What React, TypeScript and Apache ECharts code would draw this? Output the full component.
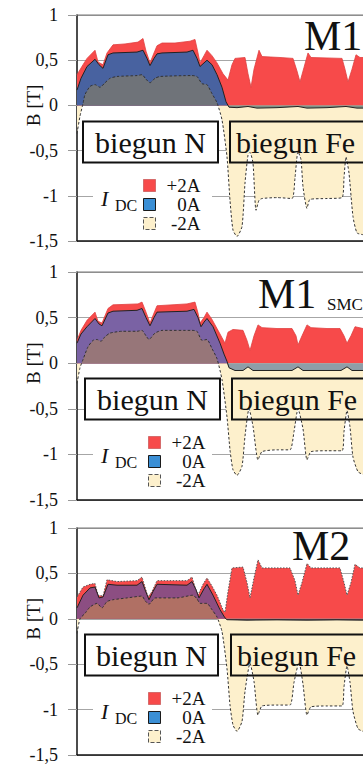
import React, { useEffect, useRef } from 'react';
import * as echarts from 'echarts';

type P = [number, number];

// Position along the air gap (arbitrary units) and flux density B [T]
const m1Plus2A: P[] = [[0,0.34],[6,0.45],[10,0.52],[18,0.61],[21,0.48],[26,0.45],[30,0.58],[36,0.67],[48,0.68],[61,0.7],[66,0.74],[69,0.6],[73,0.47],[77,0.58],[80,0.66],[85,0.69],[98,0.69],[113,0.71],[118,0.73],[121,0.58],[123,0.47],[127,0.55],[130,0.61],[135,0.55],[140,0.47],[146,0.35],[151,0.28],[155,0.45],[158,0.52],[168,0.53],[171,0.35],[174,0.2],[177,0.4],[182,0.61],[185,0.54],[203,0.53],[216,0.52],[220,0.38],[223,0.26],[227,0.42],[231,0.58],[234,0.53],[265,0.52],[268,0.4],[271,0.26],[275,0.4],[279,0.56],[283,0.53],[286,0.53]];
const m1Zero: P[] = [[0,0.17],[4,0.3],[10,0.43],[18,0.51],[22,0.45],[26,0.41],[31,0.56],[36,0.58],[60,0.59],[66,0.61],[70,0.52],[73,0.44],[77,0.52],[80,0.57],[85,0.58],[110,0.59],[116,0.61],[120,0.52],[123,0.43],[127,0.47],[130,0.5],[135,0.45],[140,0.34],[145,0.2],[149,0.04],[152,-0.02],[160,-0.025],[171,-0.012],[180,-0.03],[200,-0.025],[221,-0.012],[230,-0.03],[250,-0.025],[269,-0.012],[280,-0.03],[286,-0.03]];
const m1Minus2A: P[] = [[0,-0.31],[3,-0.12],[6,0.02],[8,0.12],[13,0.21],[18,0.23],[23,0.2],[28,0.25],[33,0.3],[40,0.32],[60,0.33],[65,0.34],[69,0.29],[73,0.25],[78,0.3],[83,0.32],[115,0.33],[120,0.32],[125,0.24],[130,0.23],[135,0.13],[140,0.03],[145,-0.16],[150,-0.57],[153,-1.05],[156,-1.38],[160,-1.45],[165,-1.34],[168,-0.86],[171,-0.55],[173,-0.52],[176,-0.64],[179,-1.16],[182,-1.05],[185,-1.03],[200,-1.02],[215,-1.03],[218,-0.8],[221,-0.51],[224,-0.6],[226,-0.9],[230,-1.14],[233,-1.04],[250,-1.03],[265,-1.02],[267,-0.8],[269,-0.57],[272,-0.75],[276,-1.23],[280,-1.41],[286,-1.43]];

const smcPlus2A: P[] = [[0,0.25],[4,0.36],[10,0.47],[18,0.56],[21,0.46],[25,0.44],[31,0.6],[36,0.64],[61,0.65],[65,0.67],[69,0.56],[73,0.44],[77,0.55],[80,0.63],[110,0.65],[118,0.67],[121,0.55],[123,0.44],[127,0.5],[130,0.56],[135,0.48],[140,0.38],[145,0.28],[148,0.22],[151,0.34],[156,0.37],[166,0.36],[170,0.25],[173,0.14],[177,0.3],[181,0.42],[185,0.39],[200,0.38],[215,0.38],[219,0.3],[221,0.2],[225,0.3],[230,0.42],[234,0.39],[250,0.38],[263,0.38],[267,0.3],[270,0.22],[274,0.3],[278,0.4],[286,0.38]];
const smcZero: P[] = [[0,0.22],[4,0.32],[10,0.4],[18,0.49],[22,0.43],[25,0.41],[31,0.55],[36,0.57],[60,0.58],[65,0.6],[69,0.5],[73,0.41],[77,0.5],[80,0.56],[110,0.57],[117,0.59],[121,0.5],[124,0.4],[127,0.45],[130,0.49],[136,0.4],[143,0.22],[147,0.1],[150,0.02],[152,-0.05],[158,-0.08],[166,-0.08],[171,-0.04],[176,-0.08],[195,-0.08],[215,-0.08],[221,-0.04],[226,-0.08],[245,-0.08],[264,-0.08],[270,-0.04],[275,-0.08],[286,-0.08]];
const smcMinus2A: P[] = [[0,-0.22],[3,-0.05],[6,0.04],[11,0.18],[16,0.25],[20,0.26],[24,0.24],[28,0.29],[33,0.33],[45,0.35],[60,0.35],[65,0.36],[69,0.3],[72,0.26],[78,0.33],[85,0.36],[115,0.36],[120,0.35],[125,0.25],[130,0.26],[135,0.16],[140,0.05],[145,-0.18],[150,-0.59],[153,-0.95],[156,-1.17],[160,-1.23],[165,-1.13],[168,-0.8],[172,-0.5],[176,-0.69],[181,-1.06],[185,-0.97],[200,-0.95],[213,-0.95],[217,-0.75],[221,-0.5],[226,-0.72],[230,-1.06],[234,-0.97],[250,-0.96],[265,-0.96],[267,-0.75],[270,-0.52],[273,-0.7],[276,-1.03],[281,-1.19],[286,-1.22]];

const m2Plus2A: P[] = [[0,0.24],[6,0.35],[13,0.38],[18,0.39],[21,0.26],[26,0.25],[30,0.43],[40,0.41],[60,0.42],[65,0.46],[68,0.35],[71,0.24],[75,0.3],[80,0.42],[110,0.42],[115,0.46],[118,0.35],[121,0.26],[126,0.38],[130,0.45],[135,0.36],[140,0.26],[146,0.1],[148,0.07],[151,0.3],[155,0.56],[166,0.57],[170,0.4],[173,0.23],[177,0.45],[181,0.65],[185,0.56],[200,0.56],[213,0.56],[218,0.42],[221,0.26],[225,0.4],[230,0.61],[234,0.56],[250,0.56],[263,0.56],[267,0.4],[270,0.26],[274,0.4],[278,0.6],[283,0.56],[286,0.56]];
const m2Zero: P[] = [[0,0.12],[6,0.26],[13,0.34],[18,0.35],[22,0.23],[26,0.24],[31,0.38],[40,0.37],[60,0.37],[65,0.41],[68,0.32],[72,0.21],[76,0.3],[80,0.38],[110,0.37],[115,0.41],[119,0.32],[122,0.23],[127,0.33],[130,0.38],[136,0.26],[143,0.1],[148,0.01],[150,-0.01],[170,-0.015],[200,-0.012],[230,-0.015],[260,-0.012],[286,-0.015]];
const m2Minus2A: P[] = [[0,-0.16],[3,0],[8,0.06],[13,0.13],[20,0.17],[25,0.12],[30,0.19],[36,0.21],[50,0.23],[65,0.25],[68,0.2],[72,0.16],[78,0.23],[100,0.23],[116,0.26],[120,0.22],[123,0.17],[130,0.17],[135,0.1],[140,0.02],[145,-0.14],[150,-0.55],[153,-0.95],[156,-1.17],[160,-1.24],[165,-1.13],[168,-0.8],[173,-0.49],[177,-0.69],[181,-1.06],[185,-0.96],[200,-0.95],[213,-0.95],[217,-0.7],[222,-0.48],[226,-0.72],[230,-1.06],[234,-0.97],[250,-0.96],[265,-0.96],[267,-0.75],[270,-0.52],[273,-0.7],[276,-1.02],[281,-1.21],[286,-1.24]];

const yTicks = [-1.5, -1, -0.5, 0, 0.5, 1];
const seriesNames = ['+2A', '0A', '-2A'];
const panelTitles = ['M1', 'M1', 'M2'];
const panelSubtitles = ['', 'SMC', ''];
const poleLabels = ['biegun N', 'biegun Fe'];

const panels = [
  { plus: m1Plus2A, zero: m1Zero, minus: m1Minus2A },
  { plus: smcPlus2A, zero: smcZero, minus: smcMinus2A },
  { plus: m2Plus2A, zero: m2Zero, minus: m2Minus2A },
];

// layout / style (not data)
const SERIF = 'Liberation Serif, DejaVu Serif, serif';
const tops = [15, 272, 528];
const heights = [226, 228, 227];
const RED = '#f74a4a';
const BEIGE = '#fdf0cc';
const styles = [
  { zeroPos: '#4862a0', zeroNeg: '#7d9288', minusPos: '#6f7379', redLine: 0 },
  { zeroPos: '#7a62a4', zeroNeg: '#8e9ea8', minusPos: '#977679', redLine: 0 },
  { zeroPos: '#8c4e82', zeroNeg: '#5a4a58', minusPos: '#b07064', redLine: 1 },
];
const nBoxX = [83, 85, 85];
const nBoxW = [135, 135, 133];
const feBoxX = [230, 232, 231];
const legendLeft = [143, 148, 148];
const titleX = [304, 258, 292];
const titleDy = [21, 22, 18];

function splitSign(pts: P[]) {
  const pos: P[] = [];
  const neg: P[] = [];
  for (let i = 0; i < pts.length; i++) {
    const [x, y] = pts[i];
    if (i > 0) {
      const [px, py] = pts[i - 1];
      if ((py < 0 && y > 0) || (py > 0 && y < 0)) {
        const xc = px + ((x - px) * -py) / (y - py);
        pos.push([xc, 0]);
        neg.push([xc, 0]);
      }
    }
    pos.push([x, Math.max(y, 0)]);
    neg.push([x, Math.min(y, 0)]);
  }
  return { pos, neg };
}

function txt(text: string, x: number, y: number, font: string, align: string, extra: any = {}) {
  return {
    type: 'text', x, y, z: 51, ...extra,
    style: { text, font, fill: '#111', align, verticalAlign: 'middle', textAlign: align, textVerticalAlign: 'middle' },
  };
}

function buildOption() {
  const grid: any[] = [];
  const xAxis: any[] = [];
  const yAxis: any[] = [];
  const series: any[] = [];
  const legend: any[] = [];
  const graphic: any[] = [];

  panels.forEach((p, k) => {
    const T = tops[k];
    const H = heights[k];
    const st = styles[k];
    grid.push({ left: 77, right: 0, top: T, height: H });
    yAxis.push({
      gridIndex: k, type: 'value', min: yTicks[0], max: yTicks[yTicks.length - 1], interval: 0.5,
      axisLine: { show: true, lineStyle: { color: '#111', width: 1.5 } },
      axisTick: { show: true, length: 9, lineStyle: { color: '#999' } },
      axisLabel: { margin: 19, fontFamily: SERIF, fontSize: 18, color: '#111', formatter: (v: number) => String(v).replace('.', ',') },
      splitLine: { lineStyle: { color: '#a6a6a6', width: 1 } },
    });
    xAxis.push({
      gridIndex: k, type: 'value', min: 0, max: 286, position: 'bottom',
      axisLine: { onZero: false, lineStyle: { color: '#111', width: 1.5 } },
      axisTick: { show: false }, axisLabel: { show: false }, splitLine: { show: false },
    });
    const base = { type: 'line', xAxisIndex: k, yAxisIndex: k, symbol: 'none', showSymbol: false, silent: true, animation: false };
    const ms = splitSign(p.minus);
    const zs = splitSign(p.zero);
    series.push({ ...base, name: seriesNames[2], data: ms.neg, smooth: 0.2, lineStyle: { width: 0 }, areaStyle: { color: BEIGE, opacity: 1 }, z: 2 });
    series.push({ ...base, name: seriesNames[0], data: p.plus, lineStyle: st.redLine ? { width: 1, color: '#555', type: [1.5, 1.5] } : { width: 0.8, color: '#e04040' }, areaStyle: { color: RED, opacity: 1 }, z: 3 });
    series.push({ ...base, name: seriesNames[1], data: zs.neg, lineStyle: { width: 0 }, areaStyle: { color: st.zeroNeg, opacity: 1 }, z: 4 });
    series.push({ ...base, name: seriesNames[1], data: zs.pos, lineStyle: { width: 0 }, areaStyle: { color: st.zeroPos, opacity: 1 }, z: 5 });
    series.push({ ...base, name: seriesNames[1], data: p.zero, lineStyle: { width: 1, color: '#222' }, z: 6 });
    series.push({ ...base, name: seriesNames[2], data: ms.pos, lineStyle: { width: 0 }, areaStyle: { color: st.minusPos, opacity: 1 }, z: 7 });
    series.push({ ...base, name: seriesNames[2], data: p.minus, smooth: 0.2, lineStyle: { width: 1, color: '#333', type: [2.5, 2] }, z: 8 });

    legend.push({
      orient: 'vertical', left: legendLeft[k], top: T + 161, itemWidth: 12, itemHeight: 12, itemGap: 0, padding: 0,
      selectedMode: false, icon: 'rect', z: 10,
      data: [
        { name: seriesNames[0], itemStyle: { color: RED, borderColor: '#b03030', borderWidth: 1, borderType: 'dotted' } },
        { name: seriesNames[1], itemStyle: { color: '#3b8fd5', borderColor: '#1a1a1a', borderWidth: 1 } },
        { name: seriesNames[2], itemStyle: { color: BEIGE, borderColor: '#555', borderWidth: 1, borderType: 'dashed' } },
      ],
      formatter: (n: string) => `{t|${n}}`,
      textStyle: { rich: { t: { width: 40, align: 'right', fontSize: 19, fontFamily: SERIF, color: '#111', lineHeight: 19.5 } } },
    });

    // top frame line
    graphic.push({ type: 'line', shape: { x1: 77, y1: T, x2: 363, y2: T }, style: { stroke: '#777', lineWidth: 1 }, z: 3 });
    // legend background and I_DC label
    graphic.push({ type: 'rect', shape: { x: 93, y: T + 160, width: 119, height: 62 }, style: { fill: '#fff' }, z: 1 });
    graphic.push(txt('I', 101, T + 183, `italic 22px ${SERIF}`, 'left'));
    graphic.push(txt('DC', 115, T + 190, `16px ${SERIF}`, 'left'));
    // pole boxes
    graphic.push({ type: 'rect', shape: { x: nBoxX[k], y: T + 106.5, width: nBoxW[k], height: 41 }, style: { fill: '#fff', stroke: '#111', lineWidth: 2 }, z: 50 });
    graphic.push(txt(poleLabels[0], nBoxX[k] + nBoxW[k] / 2, T + 127.5, `30px ${SERIF}`, 'center'));
    graphic.push({ type: 'rect', shape: { x: feBoxX[k], y: T + 106.5, width: 160, height: 41 }, style: { fill: 'none', stroke: '#111', lineWidth: 2 }, z: 50 });
    graphic.push(txt(poleLabels[1], feBoxX[k] + 6, T + 127.5, `30px ${SERIF}`, 'left'));
    // title
    graphic.push(txt(panelTitles[k], titleX[k], T + titleDy[k], `42px ${SERIF}`, 'left'));
    if (panelSubtitles[k]) graphic.push(txt(panelSubtitles[k], 327, T + 32, `17px ${SERIF}`, 'left'));
    // y-axis name, centred on the zero line
    const zeroY = T + H * (1 / 2.5);
    graphic.push(txt('B [T]', 33, zeroY, `19px ${SERIF}`, 'center', { rotation: Math.PI / 2 }));
  });

  return { animation: false, backgroundColor: '#fff', grid, xAxis, yAxis, series, legend, graphic };
}

export default function App() {
  const ref = useRef<HTMLDivElement>(null);
  useEffect(() => {
    if (!ref.current) return;
    const chart = echarts.init(ref.current, null, { renderer: 'svg' });
    chart.setOption(buildOption() as any);
    return () => chart.dispose();
  }, []);
  return <div ref={ref} style={{ position: 'fixed', left: 0, top: 0, width: 363, height: 765 }} />;
}
